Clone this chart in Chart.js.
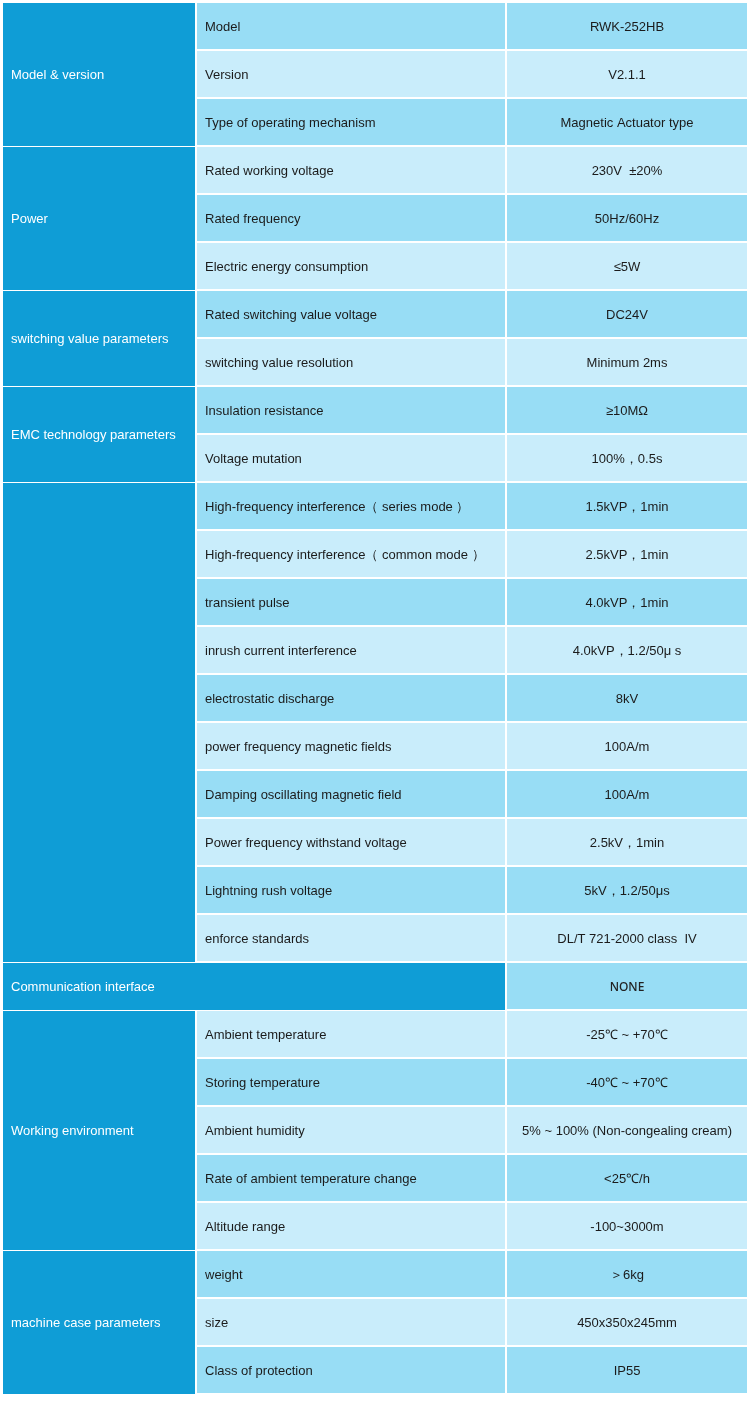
<!DOCTYPE html>
<html>
<head>
<meta charset="utf-8">
<script src="https://cdn.jsdelivr.net/npm/chart.js@4"></script>
<style>
  html, body { margin: 0; padding: 0; background: #fff; }
  .chart-container { position: relative; width: 750px; height: 1403px; }
</style>
</head>
<body>
<div class="chart-container"><canvas id="specChart"></canvas></div>
<script>
const rowNames = [
    "Model", "Version", "Type of operating mechanism",
    "Rated working voltage", "Rated frequency", "Electric energy consumption",
    "Rated switching value voltage", "switching value resolution",
    "Insulation resistance", "Voltage mutation",
    "High-frequency interference\uFF08 series mode \uFF09",
    "High-frequency interference\uFF08 common mode \uFF09",
    "transient pulse", "inrush current interference", "electrostatic discharge",
    "power frequency magnetic fields", "Damping oscillating magnetic field",
    "Power frequency withstand voltage", "Lightning rush voltage", "enforce standards",
    "",
    "Ambient temperature", "Storing temperature", "Ambient humidity",
    "Rate of ambient temperature change", "Altitude range",
    "weight", "size", "Class of protection"
];
const rowValues = [
    "RWK-252HB", "V2.1.1", "Magnetic Actuator type",
    "230V  \u00B120%", "50Hz/60Hz", "\u22645W",
    "DC24V", "Minimum 2ms",
    "\u226510M\u03A9", "100%\uFF0C0.5s",
    "1.5kVP\uFF0C1min", "2.5kVP\uFF0C1min", "4.0kVP\uFF0C1min",
    "4.0kVP\uFF0C1.2/50\u03BC s", "8kV", "100A/m", "100A/m",
    "2.5kV\uFF0C1min", "5kV\uFF0C1.2/50\u03BCs", "DL/T 721-2000 class  IV",
    "NONE",
    "-25\u2103 ~ +70\u2103", "-40\u2103 ~ +70\u2103", "5% ~ 100% (Non-congealing cream)",
    "<25\u2103/h", "-100~3000m",
    "\uFF1E6kg", "450x350x245mm", "IP55"
];
const groupLabels = [
    "Model & version", "Power", "switching value parameters", "EMC technology parameters",
    "", "Communication interface", "Working environment", "machine case parameters"
];
const groupFirst = [0, 3, 6, 8, 10, 20, 21, 26];
const groupLast = [2, 5, 7, 9, 19, 20, 25, 28];

// column edges on the x scale (left group, name, value)
const colEdges = [3, 196, 506, 748];

const DARK = "#0f9dd6";
const STRIPE_A = "#98ddf5";
const STRIPE_B = "#c9edfb";

function groupOf(i) {
    return groupFirst.findIndex((f, g) => i >= f && i <= groupLast[g]);
}

const rowLabels = rowNames.map((n, i) => String(i));
const groupData = rowNames.map((n, i) => n ? [colEdges[0], colEdges[1]] : [colEdges[0], colEdges[2]]);
const nameData = rowNames.map(n => n ? [colEdges[1], colEdges[2]] : null);
const valueData = rowNames.map(() => [colEdges[2], colEdges[3]]);
const stripe = rowNames.map((n, i) => i % 2 === 0 ? STRIPE_A : STRIPE_B);

const textPlugin = {
    id: "tableText",
    afterDatasetsDraw(chart) {
        const ctx = chart.ctx;
        const yScale = chart.scales.y;
        const dy = 1.5;
        ctx.save();
        ctx.textBaseline = "middle";

        // group labels
        ctx.fillStyle = "#ffffff";
        ctx.font = "13px 'Liberation Sans', Arial, sans-serif";
        ctx.textAlign = "left";
        groupLabels.forEach((label, g) => {
            if (!label) return;
            const y = (yScale.getPixelForValue(groupFirst[g]) + yScale.getPixelForValue(groupLast[g])) / 2;
            ctx.fillText(label, colEdges[0] + 8, y + dy);
        });

        // row names
        ctx.fillStyle = "#1b1b1b";
        const nameMeta = chart.getDatasetMeta(1);
        nameMeta.data.forEach((bar, i) => {
            if (!rowNames[i]) return;
            ctx.fillText(rowNames[i], Math.min(bar.x, bar.base) + 9, bar.y + dy);
        });

        // values
        ctx.textAlign = "center";
        const valueMeta = chart.getDatasetMeta(2);
        valueMeta.data.forEach((bar, i) => {
            if (!rowNames[i]) {
                ctx.font = "500 12px 'Noto Sans', sans-serif";
                ctx.fillStyle = "#222222";
            } else {
                ctx.font = "13px 'Liberation Sans', Arial, sans-serif";
                ctx.fillStyle = "#1b1b1b";
            }
            ctx.fillText(rowValues[i], (bar.x + bar.base) / 2, bar.y + dy);
        });
        ctx.restore();
    }
};

const ctx = document.getElementById("specChart").getContext("2d");
new Chart(ctx, {
    type: "bar",
    data: {
        labels: rowLabels,
        datasets: [{
            label: "group",
            data: groupData,
            backgroundColor: DARK,
            borderColor: "#ffffff",
            borderSkipped: false,
            inflateAmount: 0,
            borderWidth: (c) => {
                const i = c.dataIndex;
                const g = groupOf(i);
                return {
                    left: 0,
                    right: 1,
                    top: i === groupFirst[g] ? 1 : 0,
                    bottom: 0
                };
            },
        }, {
            label: "name",
            data: nameData,
            backgroundColor: stripe,
            borderColor: "#ffffff",
            borderSkipped: false,
            inflateAmount: 0,
            borderWidth: { left: 1, right: 1, top: 1, bottom: 1 },
        }, {
            label: "value",
            data: valueData,
            backgroundColor: stripe,
            borderColor: "#ffffff",
            borderSkipped: false,
            inflateAmount: 0,
            borderWidth: { left: 1, right: 1, top: 1, bottom: 1 },
        }],
    },
    options: {
        indexAxis: "y",
        responsive: true,
        maintainAspectRatio: false,
        animation: false,
        datasets: {
            bar: {
                grouped: false,
                barPercentage: 1,
                categoryPercentage: 1,
            }
        },
        layout: { padding: { top: 2, bottom: 9, left: 0, right: 0 } },
        scales: {
            x: { type: "linear", min: 0, max: 750, display: false },
            y: { type: "category", display: false, offset: true },
        },
        plugins: {
            legend: { display: false },
            tooltip: { enabled: false },
        },
    },
    plugins: [textPlugin],
});
</script>
</body>
</html>
